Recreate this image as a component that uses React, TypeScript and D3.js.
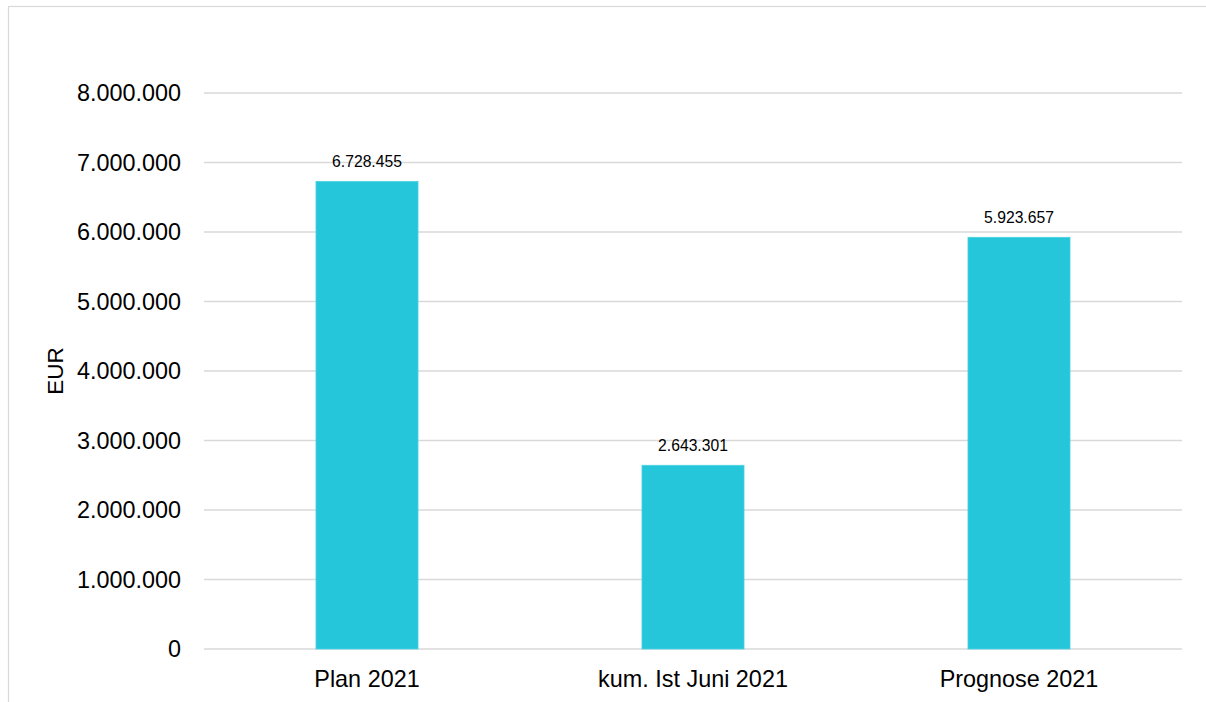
import React from "react";
import * as d3 from "d3";

const categories = ["Plan 2021", "kum. Ist Juni 2021", "Prognose 2021"];
const values = [6728455, 2643301, 5923657];
const yTicks = [0, 1000000, 2000000, 3000000, 4000000, 5000000, 6000000, 7000000, 8000000];
const yLabel = "EUR";

const fmt = (v: number) => d3.format(",.0f")(v).replace(/,/g, ".");

export default function App() {
  const W = 1206, H = 702;
  const left = 204, right = 1182, top = 93, bottom = 649;
  const x = d3.scaleBand<string>().domain(categories).range([left, right]).paddingInner(0.687).paddingOuter(0.3435);
  const y = d3.scaleLinear().domain([0, 8000000]).range([bottom, top]);
  const font = "'Liberation Sans', Arial, sans-serif";
  return (
    <svg width={W} height={H} style={{ position: "absolute", left: 0, top: 0, background: "#fff" }} fontFamily={font}>
      <rect x={8.5} y={6.5} width={1300} height={800} fill="none" stroke="#d9d9d9" strokeWidth={1.2} />
      {yTicks.map((t) => (
        <g key={t}>
          <line x1={left} x2={right} y1={y(t)} y2={y(t)} stroke="#d9d9d9" strokeWidth={1.3} />
          <text x={181} y={y(t)} dy="0.35em" textAnchor="end" fontSize={23.4} fill="#000">{fmt(t)}</text>
        </g>
      ))}
      {categories.map((c, i) => (
        <g key={c}>
          <rect x={x(c)!} y={y(values[i])} width={x.bandwidth()} height={y(0) - y(values[i])} fill="#26C6DA" stroke="#4dd3e3" strokeWidth={0.8} />
          <text x={x(c)! + x.bandwidth() / 2} y={y(values[i]) - 14} textAnchor="middle" fontSize={15.7} fill="#000">{fmt(values[i])}</text>
          <text x={x(c)! + x.bandwidth() / 2} y={687} textAnchor="middle" fontSize={23.4} fill="#000">{c}</text>
        </g>
      ))}
      <text transform={`translate(62.5,${(top + bottom) / 2}) rotate(-90)`} textAnchor="middle" fontSize={22.5} fill="#000">{yLabel}</text>
    </svg>
  );
}
